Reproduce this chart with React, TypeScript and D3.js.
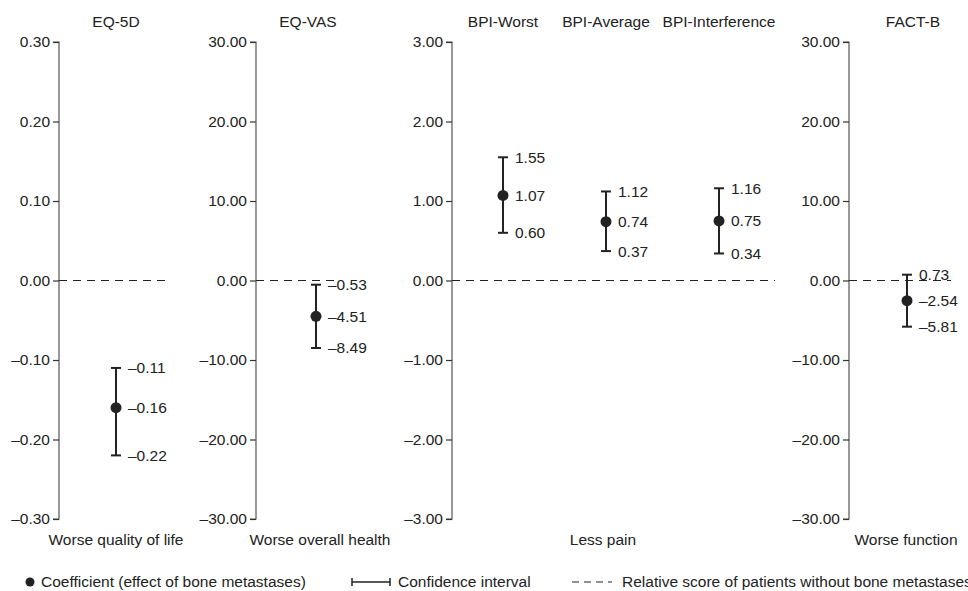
import React, { useEffect, useRef } from 'react';
import * as d3 from 'd3';

// measures, coefficients and 95% confidence limits
const measures = ['EQ-5D', 'EQ-VAS', 'BPI-Worst', 'BPI-Average', 'BPI-Interference', 'FACT-B'];
const coefficients = [-0.16, -4.51, 1.07, 0.74, 0.75, -2.54];
const ciLower = [-0.22, -8.49, 0.6, 0.37, 0.34, -5.81];
const ciUpper = [-0.11, -0.53, 1.55, 1.12, 1.16, 0.73];

// panels: which measures share an axis, its range and the footnote under it
const panelNames = ['eq5d', 'eqvas', 'bpi', 'factb'];
const panelMeasures = [['EQ-5D'], ['EQ-VAS'], ['BPI-Worst', 'BPI-Average', 'BPI-Interference'], ['FACT-B']];
const panelLimits = [0.3, 30, 3, 30];
const panelTicks = [
  [0.3, 0.2, 0.1, 0, -0.1, -0.2, -0.3],
  [30, 20, 10, 0, -10, -20, -30],
  [3, 2, 1, 0, -1, -2, -3],
  [30, 20, 10, 0, -10, -20, -30],
];
const panelFootnotes = ['Worse quality of life', 'Worse overall health', 'Less pain', 'Worse function'];

const legendLabels = [
  'Coefficient (effect of bone metastases)',
  'Confidence interval',
  'Relative score of patients without bone metastases',
];

const fmt = (v: number) => {
  const s = Math.abs(v).toFixed(2);
  return v < 0 ? '\u2013' + s : s;
};

const App = () => {
  const svgRef = useRef<SVGSVGElement>(null);

  useEffect(() => {
    const svg = d3.select(svgRef.current);
    svg.selectAll('*').remove();

    const W = 968;
    const H = 591;
    const top = 42;
    const bottom = 519;
    const font = 'Liberation Sans, Arial, Helvetica, sans-serif';
    const fs = '15.5px';
    const ink = '#222';

    svg.attr('width', W).attr('height', H).style('font-family', font);

    // layout of each panel: axis position and where the reference line stops
    const axisX = d3.scaleOrdinal<string, number>().domain(panelNames).range([59, 256, 452, 849]);
    const lineEnd = d3.scaleOrdinal<string, number>().domain(panelNames).range([170, 336, 775, 951]);
    const xPos = d3
      .scaleOrdinal<string, number>()
      .domain(measures)
      .range([116, 316, 503, 606, 719, 907]);
    const titleX = d3
      .scaleOrdinal<string, number>()
      .domain(measures)
      .range([116, 308, 503, 606, 719, 913]);
    const footX = d3.scaleOrdinal<string, number>().domain(panelNames).range([116, 320, 603, 906]);

    panelNames.forEach((name, pi) => {
      const lim = panelLimits[pi];
      const y = d3.scaleLinear().domain([-lim, lim]).range([bottom, top]);
      const ax = axisX(name);

      const axis = d3
        .axisLeft(y)
        .tickValues(panelTicks[pi])
        .tickSize(6)
        .tickPadding(3)
        .tickFormat((d) => fmt(+d));

      const g = svg.append('g').attr('transform', `translate(${ax},0)`).call(axis);
      g.select('.domain').attr('stroke', '#555').attr('stroke-width', 1.2).attr('d', `M-6,${top}H0V${bottom}H-6`);
      g.selectAll('.tick line').attr('stroke', '#333').attr('stroke-width', 1.2);
      g.selectAll('.tick text')
        .attr('fill', ink)
        .style('font-size', fs)
        .style('font-family', font);

      // reference line at zero
      svg
        .append('line')
        .attr('x1', ax)
        .attr('x2', lineEnd(name))
        .attr('y1', y(0))
        .attr('y2', y(0))
        .attr('stroke', ink)
        .attr('stroke-width', 1)
        .attr('stroke-dasharray', '8,6');

      svg
        .append('text')
        .attr('x', footX(name))
        .attr('y', 545)
        .attr('text-anchor', 'middle')
        .attr('fill', ink)
        .style('font-size', fs)
        .text(panelFootnotes[pi]);

      panelMeasures[pi].forEach((m) => {
        const i = measures.indexOf(m);
        const cx = xPos(m);
        const cap = 5;

        svg
          .append('text')
          .attr('x', titleX(m))
          .attr('y', 27)
          .attr('text-anchor', 'middle')
          .attr('fill', ink)
          .style('font-size', fs)
          .text(m);

        const eb = svg.append('g').attr('stroke', ink).attr('stroke-width', 2);
        eb.append('line').attr('x1', cx).attr('x2', cx).attr('y1', y(ciLower[i])).attr('y2', y(ciUpper[i]));
        eb.append('line')
          .attr('x1', cx - cap)
          .attr('x2', cx + cap)
          .attr('y1', y(ciLower[i]))
          .attr('y2', y(ciLower[i]));
        eb.append('line')
          .attr('x1', cx - cap)
          .attr('x2', cx + cap)
          .attr('y1', y(ciUpper[i]))
          .attr('y2', y(ciUpper[i]));

        svg.append('circle').attr('cx', cx).attr('cy', y(coefficients[i])).attr('r', 5.5).attr('fill', ink);

        [ciUpper[i], coefficients[i], ciLower[i]].forEach((v) => {
          svg
            .append('text')
            .attr('x', cx + 12)
            .attr('y', y(v))
            .attr('dy', '0.35em')
            .attr('fill', ink)
            .style('font-size', fs)
            .text(fmt(v));
        });
      });
    });

    // legend
    const ly = 582;
    const legend = svg.append('g');
    legend.append('circle').attr('cx', 30).attr('cy', ly).attr('r', 4.5).attr('fill', ink);
    legend
      .append('text')
      .attr('x', 41)
      .attr('y', ly)
      .attr('dy', '0.35em')
      .attr('fill', ink)
      .style('font-size', fs)
      .text(legendLabels[0]);

    const ci = legend.append('g').attr('stroke', ink).attr('stroke-width', 1.5);
    ci.append('line').attr('x1', 352).attr('x2', 390).attr('y1', ly).attr('y2', ly);
    ci.append('line').attr('x1', 352).attr('x2', 352).attr('y1', ly - 4).attr('y2', ly + 4);
    ci.append('line').attr('x1', 390).attr('x2', 390).attr('y1', ly - 4).attr('y2', ly + 4);
    legend
      .append('text')
      .attr('x', 398)
      .attr('y', ly)
      .attr('dy', '0.35em')
      .attr('fill', ink)
      .style('font-size', fs)
      .text(legendLabels[1]);

    legend
      .append('line')
      .attr('x1', 572)
      .attr('x2', 612)
      .attr('y1', ly)
      .attr('y2', ly)
      .attr('stroke', ink)
      .attr('stroke-width', 1)
      .attr('stroke-dasharray', '7,5');
    legend
      .append('text')
      .attr('x', 622)
      .attr('y', ly)
      .attr('dy', '0.35em')
      .attr('fill', ink)
      .style('font-size', fs)
      .text(legendLabels[2]);
  }, []);

  return (
    <div style={{ position: 'absolute', left: 0, top: 0, background: '#fff' }}>
      <svg ref={svgRef} />
    </div>
  );
};

export default App;
